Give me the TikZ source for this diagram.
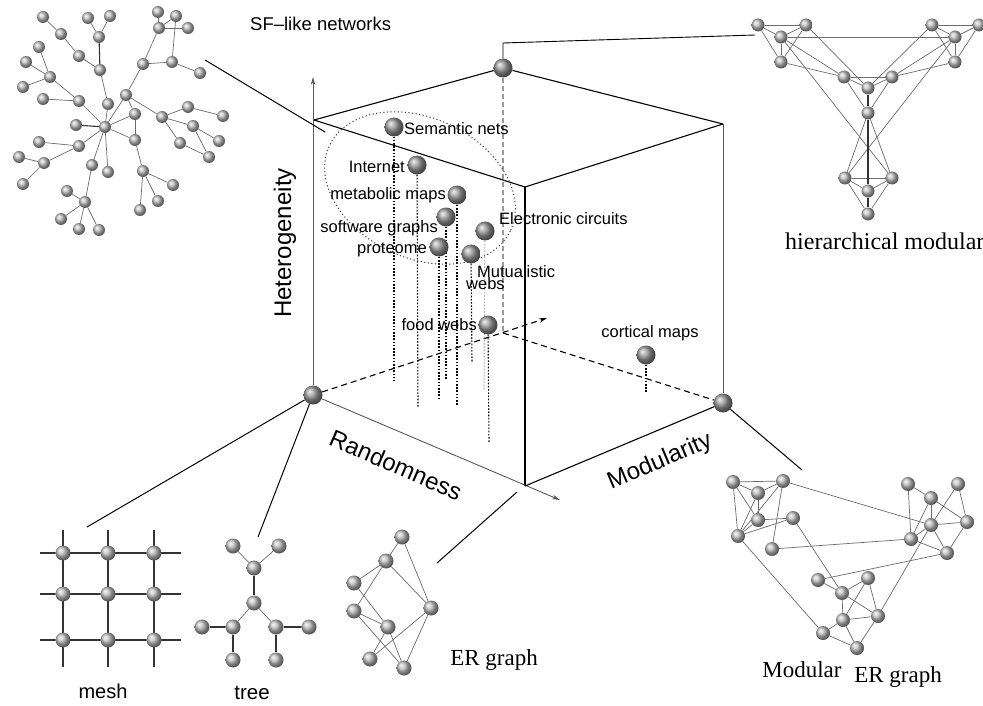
\documentclass[tikz,border=0pt]{standalone}
\usepackage{fontspec}
\setmainfont{Liberation Serif}
\newfontfamily\arial{Liberation Sans}
\usetikzlibrary{arrows.meta,shapes.geometric}
\pgfdeclarelayer{bg}
\pgfsetlayers{bg,main}
\begin{document}
\begin{tikzpicture}[x=1pt,y=-1pt,
  bigsph/.style={circle,inner sep=0pt,minimum size=19pt,ball color=gray!80},
  sfsph/.style={circle,inner sep=0pt,minimum size=12pt,ball color=gray!50},
  hmsph/.style={circle,inner sep=0pt,minimum size=13pt,ball color=gray!50},
  msph/.style={circle,inner sep=0pt,minimum size=15pt,ball color=gray!50},
  ge/.style={draw=gray!85!black,line width=0.7pt},
  gdark/.style={draw=black!80,line width=1.1pt},
  cubel/.style={draw=black,line width=1.1pt},
  axisg/.style={draw=gray!70!black,line width=0.9pt},
  dropl/.style={draw=black,line width=1.1pt,dash pattern=on 1.6pt off 1.6pt},
  longdash/.style={dash pattern=on 6pt off 4pt},
  lab/.style={font=\arial\fontsize{16.5}{15}\selectfont,inner sep=0pt},
  axl/.style={font=\arial\fontsize{24}{24}\selectfont,inner sep=0pt},
  serl/.style={font=\fontsize{23}{23}\selectfont,inner sep=0pt},
  tip/.style={-{Stealth[length=8pt,width=4.5pt]}}
]
\useasboundingbox (0,0) rectangle (983,706);
\begin{pgfonlayer}{bg}
\fill[white] (0,0) rectangle (983,706);
\end{pgfonlayer}

% ---------- cube ----------
\node[draw=gray!55!black,line width=1pt,dash pattern=on 1.2pt off 2.4pt,ellipse,minimum width=200pt,minimum height=140pt,rotate=-25] (ell) at (420,188) {};
\node[bigsph] (O) at (313,395) {};
\node[bigsph] (TB) at (503,68) {};
\node[bigsph] (R) at (723,403) {};
\coordinate (TL) at (314,120);
\coordinate (TR) at (723,124);
\coordinate (TF) at (525,187);
\coordinate (F) at (525,486);
\coordinate (B) at (503,333);
\coordinate (hetTip) at (313,77);
\coordinate (randTip) at (560,500);
\coordinate (modTip) at (547,318);
\coordinate (tbUp) at (503,43);
\coordinate (hmEnd) at (755,35);
\coordinate (sfA) at (205,60);
\coordinate (sfB) at (325,132);
\coordinate (meshEnd) at (87,527);
\coordinate (treeEnd) at (258,537);
\coordinate (merEnd) at (802,470);
\coordinate (erA) at (437,563);
\coordinate (erB) at (517,492);

% ---------- data points ----------
\node[bigsph] (sem) at (394,127) {};
\node[bigsph] (inet) at (417,165) {};
\node[bigsph] (meta) at (457,195) {};
\node[bigsph] (soft) at (446,217) {};
\node[bigsph] (prot) at (439,247) {};
\node[bigsph] (elec) at (485,231) {};
\node[bigsph] (mutu) at (471,254) {};
\node[bigsph] (food) at (488,325) {};
\node[bigsph] (cort) at (646,355) {};
\coordinate (semB) at (394,380);
\coordinate (inetB) at (418,408);
\coordinate (protB) at (439,400);
\coordinate (softB) at (446,380);
\coordinate (metaB) at (457,405);
\coordinate (mutuB) at (472,363);
\coordinate (elecB) at (484,390);
\coordinate (foodB) at (489,442);
\coordinate (cortB) at (646,392);

\node[lab,anchor=west] (semL) at (404,129) {Semantic nets};
\node[lab,anchor=east] (inetL) at (405,167) {Internet};
\node[lab,anchor=east] (metaL) at (446,195) {metabolic maps};
\node[lab,anchor=east] (softL) at (438,228) {software graphs};
\node[lab,anchor=east] (protL) at (427,250) {proteome};
\node[lab,anchor=west] (elecL) at (499,219) {Electronic circuits};
\node[lab,anchor=north west,align=left] (mutuL) at (477,265) {Mutualistic\\[-3pt]\hspace*{-11pt}webs};
\node[lab,anchor=east] (foodL) at (477,325) {food webs};
\node[lab] (cortL) at (650,333) {cortical maps};

\node[axl,rotate=90] (hetL) at (285,243) {Heterogeneity};
\node[axl,rotate=-23.5] (randL) at (396,465) {Randomness};
\node[axl,rotate=23] (modL) at (660,462) {Modularity};
\node[lab,font=\arial\fontsize{18.5}{18}\selectfont,anchor=west] (sfL) at (250,24) {SF–like networks};
\node[serl,font=\fontsize{24}{24}\selectfont,anchor=west] (hmL) at (785,241) {hierarchical modular};
\node[serl] (erL) at (494,660) {ER graph};
\node[serl] (modErL1) at (802,670) {Modular};
\node[serl] (modErL2) at (898,677) {ER graph};
\node[axl,font=\arial\fontsize{20}{20}\selectfont] (meshL) at (103,691) {mesh};
\node[axl,font=\arial\fontsize{20.5}{20}\selectfont] (treeL) at (252,693) {tree};

% ---------- SF-like network ----------
\foreach \n/\x/\y in {s1/43/17,s2/61/34,s3/79/56,s4/88/18,s5/110/16,s6/99/37,s7/100/70,
  s8/158/12,s9/176/16,s10/188/28,s11/159/28,s12/172/62,s13/200/73,s14/143/64,
  s15/39/47,s16/26/62,s17/50/77,s18/23/87,s19/43/99,s20/79/101,s21/108/104,
  s22/126/95,s23/135/114,s24/162/117,s25/188/107,s26/223/116,s27/193/126,
  s28/219/141,s29/180/143,s30/209/157,s31/105/127,s32/76/125,s33/39/142,
  s34/79/146,s35/19/157,s36/44/163,s37/23/184,s38/135/140,s39/143/171,
  s40/173/185,s41/158/201,s42/140/210,s43/108/172,s44/92/165,s45/67/191,
  s46/85/202,s47/61/219,s48/79/229,s49/99/230}
  \node[sfsph] (\n) at (\x,\y) {};

% ---------- hierarchical modular ----------
\foreach \n/\x/\y in {ha1/758/25,ha2/806/25,ha3/781/37,ha4/781/62,
  hb1/932/25,hb2/979/25,hb3/955/37,hb4/955/62,
  hc1/844/77,hc2/892/77,hc3/868/88,hc4/868/113,
  hd1/845/178,hd2/892/178,hd3/868/191,hd4/868/214}
  \node[hmsph] (\n) at (\x,\y) {};

% ---------- mesh ----------
\foreach \i/\x in {1/63,2/108,3/154}
  \foreach \j/\y in {1/553,2/594,3/640}
    \node[msph] (m\i\j) at (\x,\y) {};
\foreach \j/\y in {1/553,2/594,3/640} {
  \coordinate (mL\j) at (40,\y);
  \coordinate (mR\j) at (181,\y);
}
\foreach \i/\x in {1/63,2/108,3/154} {
  \coordinate (mT\i) at (\x,530);
  \coordinate (mB\i) at (\x,667);
}

% ---------- tree ----------
\foreach \n/\x/\y in {t1/233/546,t2/279/546,t3/254/568,t4/254/603,t5/233/627,
  t6/276/627,t7/202/627,t8/309/627,t9/233/660,t10/276/660}
  \node[msph] (\n) at (\x,\y) {};

% ---------- ER graph ----------
\foreach \n/\x/\y in {e1/402/537,e2/386/561,e3/354/583,e4/354/611,e5/388/627,
  e6/431/608,e7/370/659,e8/404/668}
  \node[msph] (\n) at (\x,\y) {};

% ---------- modular ER ----------
\foreach \n/\x/\y in {l1/733/482,l2/783/481,l3/758/493,l4/758/520,l5/793/518,
  l6/738/536,l7/772/549,
  r1/908/484,r2/958/484,r3/931/498,r4/967/522,r5/931/525,r6/911/539,r7/947/553,
  b1/818/580,b2/868/578,b3/842/593,b4/878/616,b5/843/620,b6/823/633,b7/857/648}
  \node[hmsph,minimum size=14pt] (\n) at (\x,\y) {};

% ---------- connectors ----------
\begin{pgfonlayer}{bg}
  % cube
  \draw[axisg,tip] (O) -- (hetTip);
  \draw[cubel] (TL) -- (TB);
  \draw[cubel] (TB) -- (TR);
  \draw[cubel] (TR) -- (TF);
  \draw[cubel] (TF) -- (TL);
  \draw[cubel] (TF) -- (F);
  \draw[axisg,tip] (O) -- (randTip);
  \draw[cubel] (F) -- (R);
  \draw[axisg] (R) -- (TR);
  \draw[black,line width=1.1pt,longdash,tip] (O) -- (modTip);
  \draw[black,line width=1.1pt,longdash] (B) -- (R);
  \draw[gray!80,line width=1.6pt,dash pattern=on 5pt off 3pt] (TB) -- (B);
  \draw[black,line width=0.9pt] (TB) -- (tbUp) -- (hmEnd);
  \draw[black,line width=1pt] (sfA) -- (sfB);
  \draw[black,line width=1pt] (O) -- (meshEnd);
  \draw[black,line width=1pt] (O) -- (treeEnd);
  \draw[black,line width=1pt] (R) -- (merEnd);
  \draw[black,line width=1pt] (erA) -- (erB);
  % dotted drops
  \foreach \p in {sem,inet,prot,soft,meta,mutu,food,cort}
    \draw[dropl] (\p) -- (\p B);
  \draw[dropl,draw=gray!60] (elec) -- (elecB);
  % SF edges
  \foreach \a/\b in {s1/s2,s2/s3,s3/s7,s4/s6,s5/s6,s7/s21,s8/s11,s9/s11,s9/s12,
    s10/s11,s11/s14,s14/s12,s12/s13,s14/s22,s15/s17,s16/s17,s18/s17,s17/s20,
    s19/s20,s20/s31,s21/s31,s22/s31,s22/s23,s22/s24,s23/s31,s23/s38,s24/s25,
    s25/s26,s24/s27,s27/s28,s24/s29,s29/s30,s27/s30,s31/s34,s34/s33,s34/s36,
    s35/s36,s36/s37,s31/s43,s31/s44,s44/s46,s45/s46,s46/s47,s46/s48,s46/s49,
    s38/s39,s39/s40,s39/s41,s39/s42,s31/s38}
    \draw[ge] (\a) -- (\b);
  \draw[gdark] (s6) -- (s7);
  \draw[gdark] (s31) -- (s32);
  % hierarchical edges
  \foreach \a/\b in {ha1/ha2,ha1/ha3,ha2/ha3,ha3/ha4,ha1/ha4,ha2/ha4,
    hb1/hb2,hb1/hb3,hb2/hb3,hb3/hb4,hb1/hb4,hb2/hb4,
    hc1/hc2,hc1/hc3,hc2/hc3,hc1/hc4,hc2/hc4,
    hd1/hd2,hd1/hd3,hd2/hd3,hd1/hd4,hd2/hd4,
    ha3/hb3,ha2/hc3,ha3/hc1,ha4/hc1,ha3/hd2,hb1/hc3,hb3/hc2,hb4/hc2,hb3/hd1,
    hc4/hd1,hc4/hd2}
    \draw[ge] (\a) -- (\b);
  \foreach \a/\b in {hc3/hc4,hc4/hd3,hd3/hd4}
    \draw[gdark] (\a) -- (\b);
  % mesh
  \foreach \j in {1,2,3} \draw[black!80,line width=1.3pt] (mL\j) -- (mR\j);
  \foreach \i in {1,2,3} \draw[black!80,line width=1.3pt] (mT\i) -- (mB\i);
  % tree
  \foreach \a/\b in {t1/t3,t2/t3,t4/t5,t4/t6} \draw[ge] (\a) -- (\b);
  \foreach \a/\b in {t3/t4,t5/t7,t6/t8,t5/t9,t6/t10} \draw[gdark] (\a) -- (\b);
  % ER
  \foreach \a/\b in {e1/e2,e1/e6,e2/e3,e2/e4,e2/e6,e3/e5,e4/e5,e4/e8,e5/e7,e5/e8,e6/e7,e6/e8}
    \draw[ge] (\a) -- (\b);
  % modular ER
  \foreach \a/\b in {l1/l2,l1/l3,l1/l4,l1/l6,l2/l3,l2/l6,l2/l7,l3/l4,l4/l6,l4/l5,l6/l5,l3/l6,
    r1/r3,r1/r6,r3/r5,r3/r6,r3/r4,r2/r4,r2/r5,r5/r4,r5/r6,r5/r7,r6/r7,r4/r7,
    b1/b3,b2/b3,b2/b5,b2/b4,b3/b5,b3/b4,b5/b4,b5/b6,b5/b7,b6/b7,b4/b7,
    l2/r5,l7/r6,l5/b3,l6/b6,b1/r7,b4/r5}
    \draw[ge] (\a) -- (\b);
\end{pgfonlayer}
\end{tikzpicture}
\end{document}
